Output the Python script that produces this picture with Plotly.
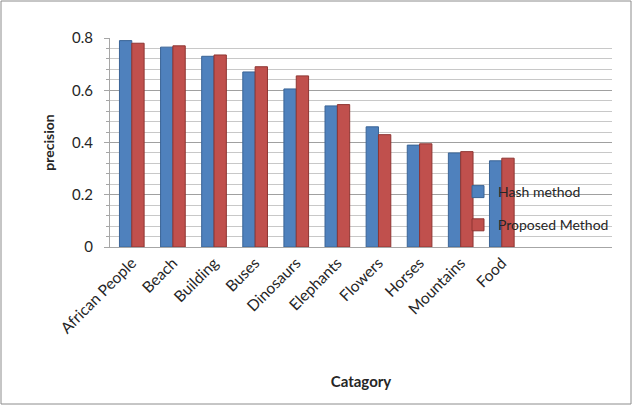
import plotly.graph_objects as go

categories = ["African People", "Beach", "Building", "Buses", "Dinosaurs",
              "Elephants", "Flowers", "Horses", "Mountains", "Food"]
hash_method = [0.79, 0.765, 0.73, 0.67, 0.605, 0.54, 0.46, 0.39, 0.36, 0.33]
proposed_method = [0.78, 0.77, 0.735, 0.69, 0.655, 0.545, 0.43, 0.395, 0.365, 0.34]
y_ticks = [0, 0.2, 0.4, 0.6, 0.8]
y_tick_labels = ["0", "0.2", "0.4", "0.6", "0.8"]

FONT = "Lato, 'Open Sans', sans-serif"
W, H = 633, 406
ML, MR, MT, MB = 110, 21, 38, 159
PW, PH = W - ML - MR, H - MT - MB

fig = go.Figure()
fig.add_trace(go.Bar(
    x=list(range(len(categories))), y=hash_method, name="Hash method",
    marker=dict(color="#4F81BD", line=dict(color="#3A6496", width=1)),
    legendgroup="a",
))
fig.add_trace(go.Bar(
    x=list(range(len(categories))), y=proposed_method, name="Proposed Method",
    marker=dict(color="#C0504D", line=dict(color="#8E3532", width=1)),
    legendgroup="b",
))

def px_to_paper_x(px):
    return (px - ML) / PW

def px_to_paper_y(py):
    return (H - MB - py) / PH

fig.update_layout(
    width=W, height=H,
    margin=dict(l=ML, r=MR, t=MT, b=MB),
    paper_bgcolor="white", plot_bgcolor="white",
    font=dict(family=FONT, size=14, color="#262626"),
    barmode="group", bargap=0.4, bargroupgap=0,
    showlegend=True,
    legend=dict(
        x=px_to_paper_x(458), y=px_to_paper_y(176), xanchor="left", yanchor="top",
        bgcolor="rgba(0,0,0,0)", font=dict(size=14, color="#262626"),
        traceorder="grouped", tracegroupgap=12, itemwidth=30,
    ),
    xaxis=dict(
        range=[-0.53, 11.68],
        tickmode="array", tickvals=list(range(len(categories))), ticktext=categories,
        tickangle=-45, tickfont=dict(size=15.5),
        showline=True, linecolor="#A6A6A6", linewidth=1,
        showgrid=False, zeroline=False, ticks="",
        title=dict(text="<b>Catagory</b>", font=dict(size=15), standoff=40),
    ),
    yaxis=dict(
        range=[0, 0.8],
        tickmode="array", tickvals=y_ticks, ticktext=y_tick_labels,
        tickfont=dict(size=15), ticklabelstandoff=8,
        showline=True, linecolor="#A6A6A6", linewidth=1,
        ticks="outside", ticklen=5, tickcolor="#A6A6A6",
        showgrid=True, gridcolor="#A0A0A0", gridwidth=1,
        minor=dict(dtick=0.04, showgrid=True, gridcolor="#C8C8C8", ticks="outside",
                   ticklen=3, tickcolor="#A6A6A6"),
        zeroline=False,
        title=dict(text="<b>precision</b>", font=dict(size=14), standoff=14),
    ),
    shapes=[dict(
        type="rect", xref="paper", yref="paper",
        x0=px_to_paper_x(1), x1=px_to_paper_x(631),
        y0=px_to_paper_y(404), y1=px_to_paper_y(1),
        line=dict(color="#8C8C8C", width=1), fillcolor="rgba(0,0,0,0)",
        layer="below",
    )],
)

fig.write_html("out.html")
